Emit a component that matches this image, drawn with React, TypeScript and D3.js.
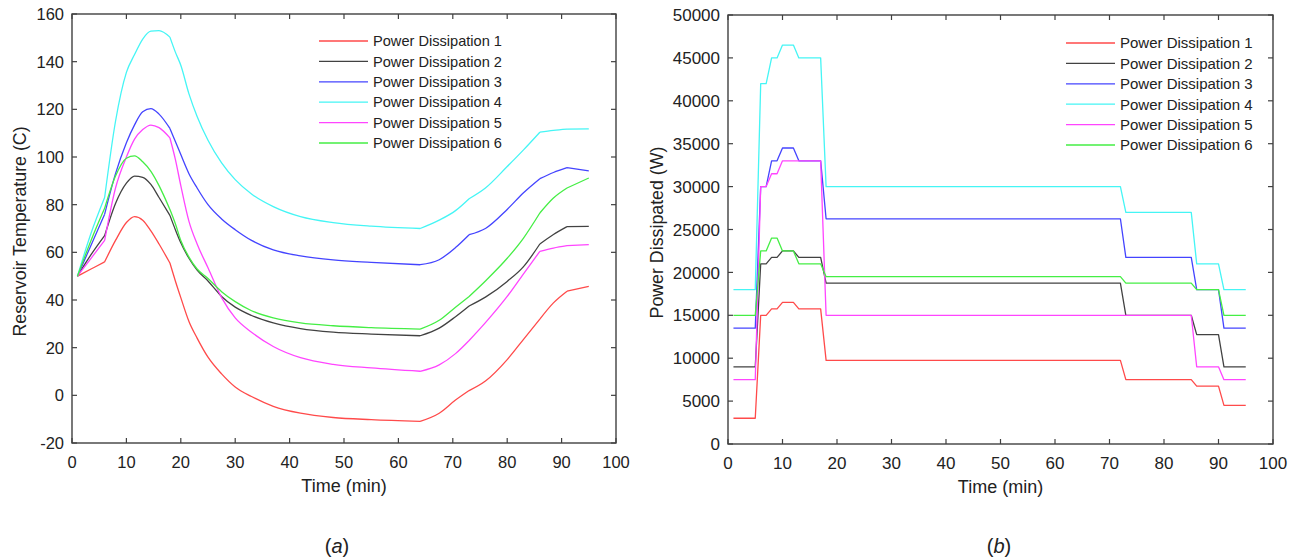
import React from "react";
import * as d3 from "d3";

// ---------- Data: panel (a) reservoir temperature ----------
const tempTimes = [1, 3.5, 6, 8, 10, 11.5, 13, 14.5, 16, 18, 19, 20, 21.5, 23, 25, 27.5, 30, 33, 37, 42, 48, 55, 64, 67.5, 70.5, 73, 76, 80, 83, 86, 88.5, 91, 95];
const temp1 = [50, 53, 56, 65, 72.5, 75, 73.5, 69, 63.5, 55.5, 48, 41, 31, 24, 16, 9, 3.5, -0.5, -4.6, -7.5, -9.3, -10.2, -10.9, -7.5, -2, 2, 6, 15, 23.5, 32, 38.8, 43.7, 45.7];
const temp2 = [50, 59, 67, 80.5, 89, 92, 91.5, 88.5, 83, 75.5, 69.5, 64, 57.5, 52.5, 48, 41.5, 37, 33.5, 30.4, 28, 26.5, 25.7, 25, 28.2, 33, 37.5, 41.2, 47.8, 54, 63.5, 67.5, 70.8, 70.9];
const temp3 = [50, 63, 76, 93, 106, 113.5, 119, 120.3, 118, 112, 106.5, 101, 93, 87, 80, 74, 69.5, 65, 61, 58.5, 56.8, 55.8, 54.8, 56.9, 62, 67.4, 70, 78, 85, 90.9, 93.5, 95.5, 94.2];
const temp4 = [50, 68, 83, 115, 135.5, 143, 149.5, 152.8, 153, 150.3, 144, 138.5, 126.5, 117, 107, 97.5, 90.5, 84.5, 79.2, 75, 72.5, 71, 70, 73.5, 77.5, 82.5, 87, 96, 103, 110.4, 111.2, 111.7, 111.8];
const temp5 = [50, 57.5, 65, 87, 100, 107.5, 111.5, 113.4, 112.3, 108, 99, 88, 73, 63.5, 53.5, 41, 32.5, 26.5, 20.5, 15.8, 13, 11.5, 10.1, 12.8, 17.5, 23, 30.5, 41.5, 51, 60.4, 61.8, 62.8, 63.2];
const temp6 = [50, 65, 78.5, 92, 99.5, 100.5, 98, 94, 88, 78, 72, 65, 58, 53, 49, 43.5, 39.3, 35.5, 32.5, 30.4, 29.2, 28.4, 27.8, 31.5, 37, 41.5, 48, 57.5, 66, 76.5, 82.8, 87, 91.2];
const tempKinks = [6, 18, 64, 73, 86, 91];

// ---------- Data: panel (b) power dissipated ----------
const powerTimes = [1, 5, 6, 7, 8, 9, 10, 12, 13, 17, 18, 72, 73, 85, 86, 90, 91, 95];
const power1 = [3000, 3000, 15000, 15000, 15750, 15750, 16500, 16500, 15750, 15750, 9750, 9750, 7500, 7500, 6750, 6750, 4500, 4500];
const power2 = [9000, 9000, 21000, 21000, 21750, 21750, 22500, 22500, 21750, 21750, 18750, 18750, 15000, 15000, 12750, 12750, 9000, 9000];
const power3 = [13500, 13500, 30000, 30000, 33000, 33000, 34500, 34500, 33000, 33000, 26250, 26250, 21750, 21750, 18000, 18000, 13500, 13500];
const power4 = [18000, 18000, 42000, 42000, 45000, 45000, 46500, 46500, 45000, 45000, 30000, 30000, 27000, 27000, 21000, 21000, 18000, 18000];
const power5 = [7500, 7500, 30000, 30000, 31500, 31500, 33000, 33000, 33000, 33000, 15000, 15000, 15000, 15000, 9000, 9000, 7500, 7500];
const power6 = [15000, 15000, 22500, 22500, 24000, 24000, 22500, 22500, 21000, 21000, 19500, 19500, 18750, 18750, 18000, 18000, 15000, 15000];

const seriesNames = ["Power Dissipation 1", "Power Dissipation 2", "Power Dissipation 3", "Power Dissipation 4", "Power Dissipation 5", "Power Dissipation 6"];
const seriesColors = ["#ff4a4a", "#424242", "#4444ff", "#45f5f5", "#ff45ff", "#45ee45"];

const xTicks = [0, 10, 20, 30, 40, 50, 60, 70, 80, 90, 100];
const tempTicks = [-20, 0, 20, 40, 60, 80, 100, 120, 140, 160];
const powerTicks = [0, 5000, 10000, 15000, 20000, 25000, 30000, 35000, 40000, 45000, 50000];

const FONT = "'Liberation Sans', Arial, Helvetica, sans-serif";
const AXIS = "#404040";

type PanelProps = {
  left: number; right: number; top: number; bottom: number;
  yDomain: [number, number]; yTicks: number[];
  times: number[]; series: number[][]; kinks: number[] | null;
  yLabel: string; yLabelX: number;
  legendX: number; legendY: number; legendStep: number; legendFont: number;
  tickFont: number; caption: string; captionX: number;
};

function Panel(p: PanelProps) {
  const x = d3.scaleLinear().domain([0, 100]).range([p.left, p.right]);
  const y = d3.scaleLinear().domain(p.yDomain).range([p.bottom, p.top]);
  const line = d3.line<[number, number]>().x(d => x(d[0])).y(d => y(d[1]))
    .curve(p.kinks ? d3.curveMonotoneX : d3.curveLinear);
  const paths = (vals: number[]) => {
    const pts = p.times.map((t, j) => [t, vals[j]] as [number, number]);
    if (!p.kinks) return [line(pts) || ""];
    const out: string[] = [];
    let seg: [number, number][] = [];
    pts.forEach(pt => {
      seg.push(pt);
      if (p.kinks!.includes(pt[0])) {
        out.push(line(seg) || "");
        seg = [pt];
      }
    });
    if (seg.length > 1) out.push(line(seg) || "");
    return out;
  };
  const tl = 5;
  const cx = (p.left + p.right) / 2;
  return (
    <g>
      {p.series.map((vals, i) => (
        <path key={i} d={paths(vals).join(" ")}
          fill="none" stroke={seriesColors[i]} strokeWidth={1.3} strokeLinejoin="round" />
      ))}
      <rect x={p.left} y={p.top} width={p.right - p.left} height={p.bottom - p.top} fill="none" stroke={AXIS} strokeWidth={1.4} />
      {xTicks.map(t => (
        <g key={"x" + t}>
          <line x1={x(t)} x2={x(t)} y1={p.bottom} y2={p.bottom - tl} stroke={AXIS} strokeWidth={1.2} />
          <line x1={x(t)} x2={x(t)} y1={p.top} y2={p.top + tl} stroke={AXIS} strokeWidth={1.2} />
          <text x={x(t)} y={p.bottom + 25} textAnchor="middle" fontSize={p.tickFont} fontFamily={FONT} fill="#222">{t}</text>
        </g>
      ))}
      {p.yTicks.map(t => (
        <g key={"y" + t}>
          <line x1={p.left} x2={p.left + tl} y1={y(t)} y2={y(t)} stroke={AXIS} strokeWidth={1.2} />
          <line x1={p.right} x2={p.right - tl} y1={y(t)} y2={y(t)} stroke={AXIS} strokeWidth={1.2} />
          <text x={p.left - 8} y={y(t)} dy="0.36em" textAnchor="end" fontSize={p.tickFont} fontFamily={FONT} fill="#222">{t}</text>
        </g>
      ))}
      <text x={cx} y={p.bottom + 49} textAnchor="middle" fontSize={18} fontFamily={FONT} fill="#222">Time (min)</text>
      <text transform={`translate(${p.yLabelX},${(p.top + p.bottom) / 2 + 3}) rotate(-90)`} textAnchor="middle" dy="0.36em"
        fontSize={17.8} fontFamily={FONT} fill="#222">{p.yLabel}</text>
      {seriesNames.map((n, i) => {
        const ly = p.legendY + i * p.legendStep;
        return (
          <g key={"l" + i}>
            <line x1={p.legendX} x2={p.legendX + 49} y1={ly} y2={ly} stroke={seriesColors[i]} strokeWidth={1.3} />
            <text x={p.legendX + 54} y={ly} dy="0.36em" fontSize={p.legendFont} fontFamily={FONT} fill="#222">{n}</text>
          </g>
        );
      })}
      <text x={p.captionX} y={553} textAnchor="middle" fontSize={20} fontFamily={FONT} fill="#222">
        (<tspan fontStyle="italic">{p.caption}</tspan>)
      </text>
    </g>
  );
}

export default function App() {
  return (
    <svg width={1296} height={558} style={{ position: "absolute", left: 0, top: 0, background: "#fff" }}>
      <rect width={1296} height={558} fill="#fff" />
      <Panel left={72} right={616} top={14} bottom={443} yDomain={[-20, 160]} yTicks={tempTicks}
        times={tempTimes} series={[temp1, temp2, temp3, temp4, temp5, temp6]} kinks={tempKinks}
        yLabel="Reservoir Temperature (C)" yLabelX={20}
        legendX={319} legendY={41} legendStep={20.4} legendFont={14.6} tickFont={16.5} caption="a" captionX={337} />
      <Panel left={728} right={1273} top={15} bottom={444} yDomain={[0, 50000]} yTicks={powerTicks}
        times={powerTimes} series={[power1, power2, power3, power4, power5, power6]} kinks={null}
        yLabel="Power Dissipated (W)" yLabelX={657}
        legendX={1066} legendY={43} legendStep={20.4} legendFont={15} tickFont={17} caption="b" captionX={999} />
    </svg>
  );
}
